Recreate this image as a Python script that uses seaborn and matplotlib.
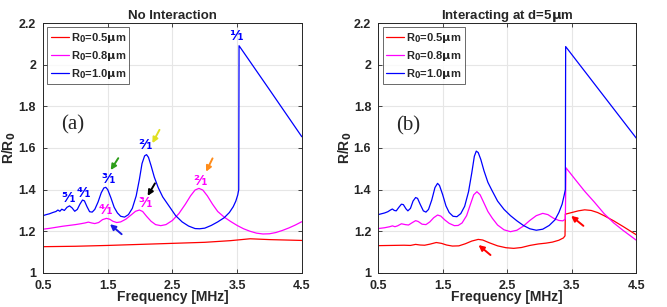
import pandas as pd
import matplotlib
matplotlib.use("Agg")
import matplotlib.pyplot as plt
import seaborn as sns

# ---- data (frequency in MHz, R/R0) ----
# (a) no interaction
fa_05 = [0.5, 1.0, 1.5, 2.0, 2.5, 3.0, 3.4, 3.7, 4.0, 4.5]
ra_05 = [1.126, 1.128, 1.132, 1.137, 1.142, 1.147, 1.155, 1.164, 1.160, 1.156]

fa_08 = [0.50, 0.60, 0.70, 0.80, 0.90, 1.00, 1.08, 1.15, 1.20, 1.25, 1.30, 1.36, 1.42,
         1.48, 1.53, 1.58, 1.64, 1.70, 1.78, 1.86, 1.93, 1.99, 2.04, 2.10, 2.17, 2.24,
         2.32, 2.40, 2.50, 2.60, 2.70, 2.78, 2.85, 2.91, 2.97, 3.04, 3.12, 3.20, 3.30,
         3.40, 3.50, 3.60, 3.70, 3.80, 3.90, 4.00, 4.10, 4.20, 4.30, 4.40, 4.50]
ra_08 = [1.210, 1.214, 1.219, 1.224, 1.228, 1.232, 1.236, 1.240, 1.244, 1.240, 1.237,
         1.242, 1.256, 1.262, 1.258, 1.248, 1.242, 1.245, 1.258, 1.278, 1.296, 1.302,
         1.295, 1.272, 1.248, 1.232, 1.227, 1.232, 1.252, 1.285, 1.330, 1.370, 1.398,
         1.406, 1.398, 1.370, 1.330, 1.295, 1.268, 1.247, 1.228, 1.212, 1.200, 1.191,
         1.187, 1.188, 1.194, 1.204, 1.216, 1.230, 1.246]

fa_10 = [0.50, 0.55, 0.60, 0.65, 0.70, 0.73, 0.76, 0.79, 0.83, 0.87, 0.91, 0.95, 0.99,
         1.03, 1.07, 1.11, 1.14, 1.18, 1.22, 1.26, 1.30, 1.35, 1.40, 1.44, 1.47, 1.50,
         1.55, 1.60, 1.65, 1.70, 1.76, 1.82, 1.88, 1.94, 1.99, 2.03, 2.07, 2.10, 2.13,
         2.17, 2.22, 2.28, 2.35, 2.45, 2.55, 2.65, 2.75, 2.85, 2.92, 3.00, 3.10, 3.20,
         3.30, 3.38, 3.44, 3.48, 3.51, 3.525, 3.53, 4.00, 4.50]
ra_10 = [1.275, 1.280, 1.284, 1.290, 1.295, 1.302, 1.296, 1.306, 1.300, 1.315, 1.322,
         1.312, 1.296, 1.305, 1.330, 1.350, 1.346, 1.318, 1.294, 1.292, 1.305, 1.340,
         1.385, 1.408, 1.411, 1.400, 1.360, 1.315, 1.288, 1.272, 1.268, 1.280, 1.310,
         1.370, 1.450, 1.525, 1.562, 1.568, 1.555, 1.515, 1.460, 1.410, 1.365, 1.320,
         1.275, 1.245, 1.225, 1.213, 1.212, 1.215, 1.228, 1.245, 1.265, 1.290, 1.318,
         1.345, 1.375, 1.400, 2.091, 1.880, 1.654]

# (b) interacting at d = 5 um
fb_05 = [0.50, 0.70, 0.90, 1.00, 1.08, 1.15, 1.22, 1.30, 1.40, 1.48, 1.56, 1.65, 1.75,
         1.85, 1.95, 2.05, 2.12, 2.22, 2.35, 2.48, 2.60, 2.72, 2.85, 2.98, 3.10, 3.20,
         3.30, 3.37, 3.395, 3.40, 3.50, 3.60, 3.70, 3.80, 3.90, 4.00, 4.15, 4.30, 4.50]
rb_05 = [1.131, 1.132, 1.133, 1.132, 1.137, 1.134, 1.133, 1.138, 1.146, 1.142, 1.134,
         1.129, 1.130, 1.140, 1.153, 1.161, 1.158, 1.145, 1.130, 1.121, 1.118, 1.122,
         1.132, 1.139, 1.143, 1.148, 1.157, 1.168, 1.178, 1.282, 1.290, 1.298, 1.303,
         1.300, 1.290, 1.275, 1.250, 1.222, 1.183]

fb_08 = [0.50, 0.60, 0.68, 0.72, 0.76, 0.80, 0.86, 0.92, 0.97, 1.02, 1.08, 1.12, 1.18,
         1.24, 1.30, 1.36, 1.42, 1.47, 1.53, 1.60, 1.68, 1.74, 1.80, 1.87, 1.93, 1.98,
         2.03, 2.08, 2.14, 2.20, 2.27, 2.35, 2.45, 2.55, 2.65, 2.75, 2.85, 2.95, 3.05,
         3.13, 3.22, 3.30, 3.36, 3.40, 3.41, 3.55, 3.70, 3.85, 4.00, 4.15, 4.30, 4.50]
rb_08 = [1.213, 1.217, 1.222, 1.226, 1.222, 1.226, 1.236, 1.232, 1.230, 1.240, 1.251,
         1.247, 1.234, 1.232, 1.245, 1.265, 1.278, 1.273, 1.255, 1.238, 1.227, 1.228,
         1.240, 1.275, 1.330, 1.375, 1.390, 1.375, 1.335, 1.295, 1.262, 1.230, 1.207,
         1.198, 1.205, 1.225, 1.252, 1.275, 1.286, 1.280, 1.262, 1.252, 1.250, 1.258,
         1.505, 1.450, 1.392, 1.340, 1.285, 1.240, 1.203, 1.157]

fb_10 = [0.50, 0.55, 0.60, 0.65, 0.69, 0.72, 0.75, 0.78, 0.82, 0.86, 0.89, 0.93, 0.96,
         1.00, 1.04, 1.08, 1.11, 1.15, 1.20, 1.24, 1.28, 1.33, 1.38, 1.42, 1.45, 1.50,
         1.55, 1.60, 1.66, 1.72, 1.78, 1.84, 1.90, 1.95, 1.99, 2.02, 2.05, 2.09, 2.14,
         2.20, 2.26, 2.35, 2.45, 2.55, 2.65, 2.75, 2.85, 2.95, 3.05, 3.15, 3.24, 3.30,
         3.35, 3.38, 3.40, 3.405, 3.90, 4.50]
rb_10 = [1.280, 1.284, 1.288, 1.294, 1.302, 1.307, 1.300, 1.298, 1.315, 1.330, 1.328,
         1.308, 1.298, 1.310, 1.345, 1.362, 1.358, 1.330, 1.298, 1.292, 1.305, 1.350,
         1.410, 1.430, 1.420, 1.375, 1.322, 1.290, 1.272, 1.270, 1.285, 1.320, 1.390,
         1.480, 1.560, 1.585, 1.578, 1.545, 1.490, 1.435, 1.398, 1.345, 1.305, 1.275,
         1.250, 1.228, 1.212, 1.205, 1.210, 1.228, 1.255, 1.290, 1.330, 1.370, 1.400,
         2.087, 1.888, 1.647]

labels = ["R$_\\mathbf{0}$=0.5$\\mathbf{\\mu}$m",
          "R$_\\mathbf{0}$=0.8$\\mathbf{\\mu}$m",
          "R$_\\mathbf{0}$=1.0$\\mathbf{\\mu}$m"]
colors = ["#ff0000", "#ff00ff", "#0000ff"]
xticks = [0.5, 1.5, 2.5, 3.5, 4.5]
yticks = [1.0, 1.2, 1.4, 1.6, 1.8, 2.0, 2.2]
yticklabels = ["1", "1.2", "1.4", "1.6", "1.8", "2", "2.2"]


def long_df(curves):
    parts = []
    for lab, (f, r) in zip(labels, curves):
        parts.append(pd.DataFrame({"freq": f, "ratio": r, "R0": lab}))
    return pd.concat(parts, ignore_index=True)


df_a = long_df([(fa_05, ra_05), (fa_08, ra_08), (fa_10, ra_10)])
df_b = long_df([(fb_05, rb_05), (fb_08, rb_08), (fb_10, rb_10)])

sns.set_style("whitegrid", {"grid.color": "#e6e6e6", "axes.edgecolor": "#262626"})
plt.rcParams["font.family"] = ["Liberation Sans", "DejaVu Sans"]
plt.rcParams["font.weight"] = "bold"
plt.rcParams["mathtext.default"] = "bf"

fig = plt.figure(figsize=(6.67, 3.07), dpi=100)
ax_a = fig.add_axes([0.0645, 0.111, 0.388, 0.814])
ax_b = fig.add_axes([0.567, 0.111, 0.387, 0.814])

for ax, df, title in [(ax_a, df_a, "No Interaction"), (ax_b, df_b, "Interacting at d=5$\\mu$m")]:
    sns.lineplot(data=df, x="freq", y="ratio", hue="R0", palette=colors,
                 estimator=None, sort=False, lw=0.9, ax=ax)
    ax.set_xlim(0.5, 4.5)
    ax.set_ylim(1.0, 2.2)
    ax.set_xticks(xticks)
    ax.set_xticklabels([str(t) for t in xticks])
    ax.set_yticks(yticks)
    ax.set_yticklabels(yticklabels)
    ax.tick_params(direction="in", length=3, width=0.6, labelsize=9,
                   top=True, right=True, bottom=True, left=True, colors="#262626")
    ax.tick_params(axis="x", pad=5)
    ax.tick_params(axis="y", pad=5)
    for lab in ax.get_xticklabels() + ax.get_yticklabels():
        lab.set_fontweight("bold")
    for s in ax.spines.values():
        s.set_linewidth(0.7)
        s.set_color("#262626")
    ax.set_xlabel("Frequency [MHz]", fontsize=10, fontweight="bold", labelpad=-1)
    ax.set_ylabel("R/R$_0$", fontsize=10, fontweight="bold", labelpad=0)
    ax.set_title(title, fontsize=9.5, fontweight="bold", pad=3)
    leg = ax.legend(loc="upper left", fontsize=8, frameon=True, fancybox=False,
                    handlelength=1.6, handletextpad=0.2, borderpad=0.3,
                    labelspacing=0.35, borderaxespad=0.4)
    leg.get_frame().set_edgecolor("#262626")
    leg.get_frame().set_linewidth(0.6)
    for t in leg.get_texts():
        t.set_fontweight("bold")

ax_a.text(0.955, 1.71, "(a)", family=["Liberation Serif"], fontsize=15,
          fontweight="normal", ha="center", va="center")
ax_b.text(0.965, 1.708, "(b)", family=["Liberation Serif"], fontsize=15,
          fontweight="normal", ha="center", va="center")

# resonance order labels
fracs = [("⁵⁄₁", 0.89, 1.359, "#0000ff"), ("⁴⁄₁", 1.14, 1.385, "#0000ff"),
         ("³⁄₁", 1.52, 1.45, "#0000ff"), ("²⁄₁", 2.09, 1.615, "#0000ff"),
         ("¹⁄₁", 3.49, 2.14, "#0000ff"), ("⁴⁄₁", 1.47, 1.30, "#ff00ff"),
         ("³⁄₁", 2.09, 1.335, "#ff00ff"), ("²⁄₁", 2.94, 1.44, "#ff00ff")]
for txt, x, y, c in fracs:
    ax_a.text(x, y, txt, color=c, fontsize=10, fontweight="bold",
              family=["DejaVu Sans"], ha="center", va="center")

arrows_a = [((1.663, 1.551), (1.546, 1.494), "#2e9e1a"),
            ((2.30, 1.687), (2.19, 1.623), "#e0e020"),
            ((2.23, 1.43), (2.117, 1.37), "#000000"),
            ((1.715, 1.186), (1.535, 1.234), "#1a1ae6"),
            ((3.12, 1.55), (3.02, 1.486), "#ff8c1a")]
for tail, head, c in arrows_a:
    ax_a.annotate("", xy=head, xytext=tail,
                  arrowprops=dict(arrowstyle="-|>", color=c, lw=1.4, mutation_scale=8,
                                  shrinkA=0, shrinkB=0))

arrows_b = [((2.24, 1.086), (2.055, 1.134)), ((3.68, 1.226), (3.49, 1.274))]
for tail, head in arrows_b:
    ax_b.annotate("", xy=head, xytext=tail,
                  arrowprops=dict(arrowstyle="-|>", color="#ff0000", lw=1.4, mutation_scale=8,
                                  shrinkA=0, shrinkB=0))

fig.savefig("out.png", dpi=100)
